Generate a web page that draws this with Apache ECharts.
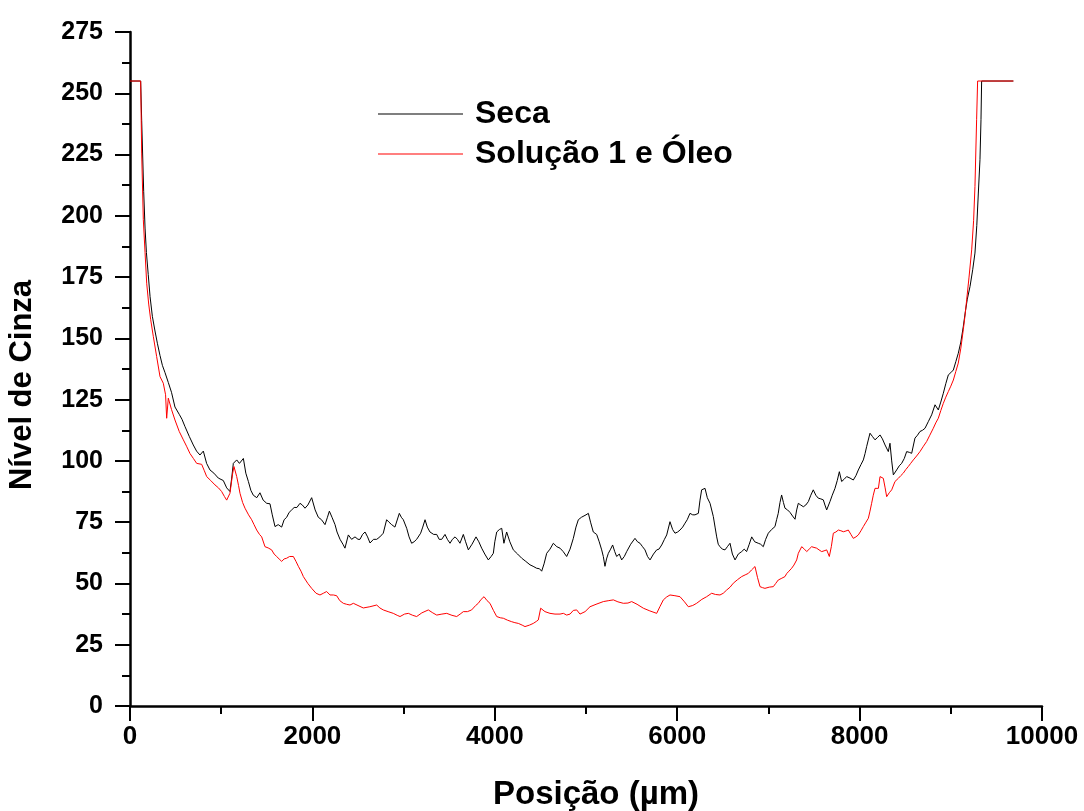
<!DOCTYPE html>
<html>
<head>
<meta charset="utf-8">
<script src="https://cdn.jsdelivr.net/npm/echarts@6/dist/echarts.min.js"></script>
<style>
html,body{margin:0;padding:0;background:#fff;}
#chart{width:1084px;height:811px;}
</style>
</head>
<body>
<div id="chart"></div>
<script>
// Series names
const seriesNames = ['Seca', 'Solução 1 e Óleo'];

// Seca (black): position (µm) and grey level
const secaPos = [0,117,128,150,165,180,200,220,245,274,300,329,355,384,420,455,493,540,570,603,650,694,730,767,804,840,877,920,968,1023,1060,1096,1115,1133,1170,1200,1243,1270,1298,1325,1352,1390,1425,1460,1499,1535,1560,1590,1625,1663,1690,1718,1745,1773,1800,1830,1864,1890,1919,1950,1992,2030,2065,2100,2138,2165,2186,2215,2248,2270,2303,2335,2357,2394,2430,2467,2500,2522,2550,2577,2605,2632,2670,2705,2740,2777,2814,2840,2869,2905,2953,2975,2997,3034,3060,3088,3115,3143,3187,3210,3235,3260,3289,3330,3363,3390,3418,3454,3480,3509,3535,3564,3590,3618,3655,3680,3710,3750,3794,3825,3856,3890,3929,3960,3984,4000,4021,4050,4076,4100,4130,4165,4203,4250,4295,4340,4386,4420,4459,4490,4514,4540,4569,4605,4642,4680,4715,4750,4788,4825,4861,4890,4916,4950,4971,5000,5026,5050,5080,5117,5145,5172,5190,5208,5225,5245,5270,5292,5315,5336,5365,5391,5420,5446,5490,5537,5565,5592,5620,5647,5675,5702,5740,5775,5800,5830,5860,5885,5921,5950,5976,6005,6031,6060,6086,6110,6140,6170,6195,6232,6250,6268,6305,6330,6360,6396,6415,6433,6450,6469,6495,6524,6550,6579,6605,6634,6670,6707,6735,6761,6790,6817,6850,6889,6915,6944,6970,6999,7035,7072,7090,7108,7127,7145,7165,7182,7210,7237,7265,7292,7310,7328,7355,7383,7410,7438,7465,7492,7520,7547,7575,7602,7620,7639,7675,7700,7730,7755,7778,7803,7830,7858,7895,7931,7960,7986,8015,8041,8060,8077,8095,8114,8140,8169,8195,8224,8250,8279,8315,8333,8352,8370,8406,8435,8461,8490,8516,8545,8571,8607,8635,8662,8690,8717,8753,8790,8827,8863,8890,8918,8945,8973,9000,9028,9055,9082,9110,9137,9160,9181,9211,9240,9265,9285,9302,9320,9331,9338,9686];
const secaVal = [255,255,239,210,195,185,176,167,159,153,148,143,139,136,132,128,122,119,117,114,110,106.5,104,102.4,104,99,96.3,95,93,92,89,87.5,93,99,100.4,99,101,95,91.6,88,86,85,87,84,82.7,82.5,78,73.2,74,73,76,77,79,80,81,81,82.7,82,80.7,82,85,80,77,76,74,77,79.5,77,74,71,68,66,64.4,69.8,68,69,68,68,70,71,69,66.5,68,68,69,70.5,76,75,74,73,78.6,77,76,72.5,69,66.4,67,68,70.5,73,76,73,71,70,70,68,68,70,68,66.4,68,69,68,66.4,70,67,63.7,66,69,67,64.4,62,59.6,61,62.3,67,71,72,72.5,66.4,71,67,63.7,62,60.3,59,57.6,57,56.2,56,55,58,62.3,64,66.4,65,64.4,63,61,64,68.4,73,76,77,77.3,78,78.6,75,71,70,67,63.7,61,57,60,62.3,64,65.7,63,61,62,59.6,61,63,66,68.4,67,66.4,65,63.7,61,59.6,62,63.7,64,65.7,68,69.8,75.2,72,70.5,71,71.8,73,74.6,76,78.6,78,78,78.6,84,88.2,88.8,85,82.7,77.3,73,69,66,65,64,63.7,65,66.4,62,59.6,62,63,64,63,66,69,67,66.4,66,65,68,70.5,72,73.2,76,78.6,83,86.1,83,80.7,80,79,77.5,76.2,80,82.7,82,81.3,82,83.4,86,88.2,86,84.8,84.5,84.1,82,80,83.4,86,88.8,92,95.6,91.6,92.5,93.6,93,92.2,94,96.3,98.5,100.4,103,105.8,108.5,111.3,110,108.6,109.5,110.6,109,106.5,103.8,107.2,100,94.3,96.3,98,99,101,103.8,103.5,103.1,109.3,110.5,112,112.5,113.3,116,118.8,122.9,120.8,124,127.6,131.5,135.1,136,137.1,140.5,143.9,148.5,154.8,161,166,171.2,178,184.8,196,209.3,222.9,239.2,255,255];

// Solução 1 e Óleo (red): position (µm) and grey level
const oleoPos = [0,117,128,146,165,183,205,227,256,292,329,365,390,402,420,455,493,540,585,620,658,695,731,786,815,841,885,932,970,1005,1035,1060,1096,1126,1140,1170,1190,1206,1235,1261,1300,1334,1360,1389,1420,1444,1480,1515,1553,1580,1608,1635,1663,1690,1718,1750,1791,1820,1846,1875,1901,1950,1992,2040,2083,2120,2156,2193,2230,2266,2300,2339,2375,2412,2449,2500,2558,2630,2705,2740,2777,2830,2887,2930,2961,3010,3052,3100,3143,3200,3271,3320,3363,3420,3473,3530,3582,3620,3655,3700,3746,3790,3819,3850,3882,3915,3947,3985,4021,4060,4094,4140,4185,4220,4258,4300,4331,4380,4422,4455,4477,4503,4550,4605,4660,4715,4752,4788,4825,4861,4898,4934,4990,5044,5110,5190,5250,5300,5350,5409,5460,5501,5560,5629,5700,5775,5810,5848,5885,5921,5975,6031,6080,6122,6170,6213,6270,6323,6378,6420,6469,6505,6542,6580,6615,6660,6707,6745,6780,6815,6853,6880,6908,6935,6962,7010,7054,7080,7108,7140,7182,7200,7225,7255,7280,7310,7328,7365,7395,7420,7447,7474,7500,7529,7555,7584,7610,7639,7668,7690,7712,7740,7767,7795,7822,7850,7876,7905,7931,7960,7986,8015,8041,8070,8096,8114,8132,8150,8169,8206,8224,8260,8280,8297,8325,8352,8388,8425,8452,8479,8507,8534,8560,8589,8625,8662,8700,8735,8770,8808,8835,8863,8890,8918,8945,8973,9000,9028,9055,9082,9110,9137,9155,9174,9200,9229,9250,9265,9283,9294,9686];
const oleoVal = [255,255,225.6,198.4,185,172.5,164,157.6,150.7,142.6,134.4,131.7,127,117.4,125.6,121,116.7,112,108.6,106,103,101,99,98.6,96,93.6,92,90.2,89,87.5,85.5,84,86.8,95,97.7,93.6,90,86.8,83,80.7,78,76,74,71.8,70,69,65,64.5,63.7,62,61,60,59,60,60.3,61,61,59,57,55,52.8,50,48,46,45.3,46,46.7,45.3,45.3,45,43,41.9,41.5,41.2,41.9,41,40,40.5,41.2,40,39.2,38.5,37.8,37,36.5,37.5,37.8,37,36.5,38,39.2,38,37.1,37.5,37.8,37,36.5,37.5,38.5,38.5,39.2,41,41.9,43.5,44.6,43,41.9,39,36.5,36,35.8,35,34.4,34,33.7,33,32.4,33,33.7,34.5,35.1,39.9,38.5,37.8,37.5,37.5,37.8,37.1,37.5,39,39.2,37.5,38.5,40.5,41.5,42.6,43,43.3,42.5,41.9,42,42.6,41.5,39.9,38.8,37.8,40.5,43.3,44.5,45.3,45,44.6,42.5,40.5,41,41.9,43.5,44.6,46,45.5,45.3,46,47.3,48.5,50.1,51.5,52.8,53.5,54.1,55.5,56.9,52.5,48.7,48.3,48,48.5,48.7,50,51.4,52,52.8,54,55,56.2,57.5,59.6,62.3,65,64,63,64,65,64.7,64.4,63.7,63,63.3,63.7,61,65,70.5,71,71.8,71.5,71.1,71.4,71.8,70,68.4,69,69.8,71.5,73.2,75,76.6,79.5,82.7,86,88.8,88.8,93.6,92.9,89,85.4,87,88.2,91.6,92.9,94,95,96.5,97.7,99,100.4,102,103.8,106,107.9,110.5,113.3,115.5,117.4,120.5,123.5,126,128.3,130.5,133,136.5,139.9,146,153.5,159,165.7,175,186.1,198,212,239.2,255,255];

function pairs(xs, ys) { return xs.map((x, i) => [x, ys[i]]); }

const FONT = "'Liberation Sans', Arial, sans-serif";
const chart = echarts.init(document.getElementById('chart'), null, {renderer: 'canvas'});

const axisCommon = {
  axisLine: {show: true, onZero: false, lineStyle: {color: '#000', width: 2.5}},
  axisTick: {show: true, inside: false, length: 15, lineStyle: {color: '#000', width: 2}},
  minorTick: {show: true, splitNumber: 2, length: 8, lineStyle: {color: '#000', width: 2}},
  splitLine: {show: false},
  minorSplitLine: {show: false}
};

chart.setOption({
  animation: false,
  backgroundColor: '#fff',
  grid: {left: 130, right: 42, top: 32, bottom: 105, containLabel: false, outerBoundsMode: 'none'},
  legend: {
    show: true,
    orient: 'vertical',
    left: 378,
    top: 98,
    padding: 0,
    icon: 'rect',
    itemWidth: 85,
    itemHeight: 1,
    itemGap: 8,
    data: seriesNames,
    textStyle: {fontFamily: FONT, fontWeight: 'bold', fontSize: 32, color: '#000', lineHeight: 32, padding: [0, 0, 0, 7]}
  },
  xAxis: {
    type: 'value',
    min: 0, max: 10000, interval: 2000,
    name: 'Posição (µm)',
    nameLocation: 'middle',
    nameGap: 72,
    nameTextStyle: {fontFamily: FONT, fontWeight: 'bold', fontSize: 33, color: '#000', padding: [0, 0, 0, 20]},
    axisLabel: {fontFamily: FONT, fontWeight: 'bold', fontSize: 26, color: '#000', margin: 18, formatter: (v) => String(v)},
    ...axisCommon
  },
  yAxis: {
    type: 'value',
    min: 0, max: 275, interval: 25,
    name: 'Nível de Cinza',
    nameLocation: 'middle',
    nameGap: 92,
    nameTextStyle: {fontFamily: FONT, fontWeight: 'bold', fontSize: 31, color: '#000', padding: [0, 32, 0, 0]},
    axisLabel: {fontFamily: FONT, fontWeight: 'bold', fontSize: 25, color: '#000', margin: 27},
    ...axisCommon
  },
  series: [
    {
      name: seriesNames[0], type: 'line', data: pairs(secaPos, secaVal),
      showSymbol: false, symbol: 'none', smooth: false,
      lineStyle: {color: '#000000', width: 1}, itemStyle: {color: '#000000'}
    },
    {
      name: seriesNames[1], type: 'line', data: pairs(oleoPos, oleoVal),
      showSymbol: false, symbol: 'none', smooth: false,
      lineStyle: {color: '#ff0000', width: 1}, itemStyle: {color: '#ff0000'}
    }
  ]
});
</script>
</body>
</html>
